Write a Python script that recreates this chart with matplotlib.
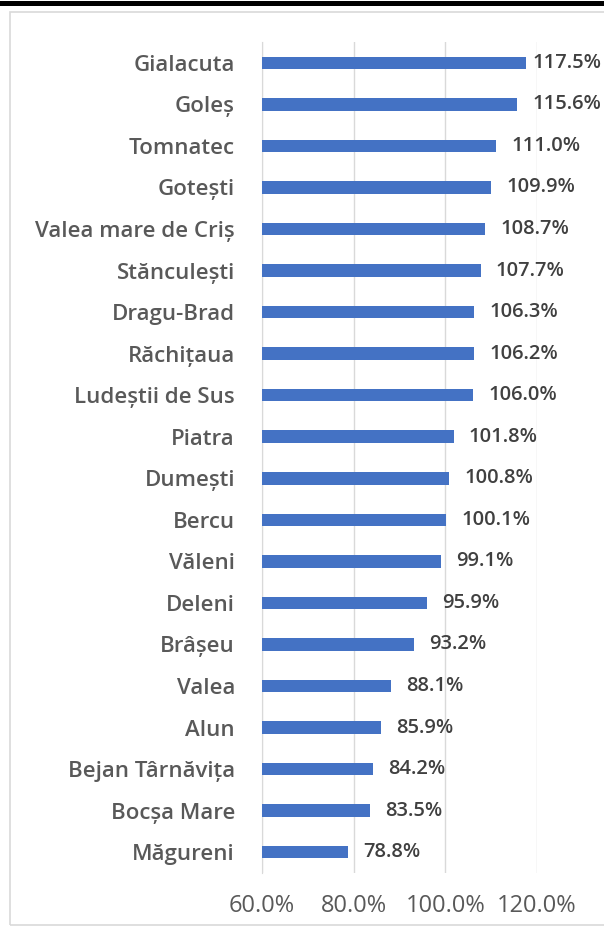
import matplotlib.pyplot as plt
from matplotlib.patches import Rectangle
from matplotlib.lines import Line2D
from matplotlib.ticker import FuncFormatter

# data, top to bottom as in the chart
villages = ['Gialacuta', 'Goleș', 'Tomnatec', 'Gotești', 'Valea mare de Criș',
            'Stănculești', 'Dragu-Brad', 'Răchițaua', 'Ludeștii de Sus', 'Piatra',
            'Dumești', 'Bercu', 'Văleni', 'Deleni', 'Brâșeu', 'Valea', 'Alun',
            'Bejan Târnăvița', 'Bocșa Mare', 'Măgureni']
values = [117.5, 115.6, 111.0, 109.9, 108.7, 107.7, 106.3, 106.2, 106.0, 101.8,
          100.8, 100.1, 99.1, 95.9, 93.2, 88.1, 85.9, 84.2, 83.5, 78.8]
ticks = [60, 80, 100, 120]

plt.rcParams['font.family'] = ['Open Sans', 'DejaVu Sans']

fig = plt.figure(figsize=(6.04, 9.32), dpi=100)

# chart frame and the black rule on top
fig.patches.append(Rectangle((10 / 604, 1 - 925 / 932), 1.0, 913 / 932,
                             transform=fig.transFigure, fill=False,
                             edgecolor='#d9d9d9', linewidth=1.2))
fig.lines.append(Line2D([0, 1], [1 - 2.5 / 932, 1 - 2.5 / 932],
                        transform=fig.transFigure, color='black', linewidth=3.6))

ax = fig.add_axes([262 / 604, 1 - 873 / 932, 275 / 604, 831 / 932])

y = list(range(len(villages)))
ax.barh(y, [v - 60 for v in values], left=60, height=0.3, color='#4472C4', zorder=3)
labels = []
for yi, v in zip(y, values):
    t = ax.annotate(f'{v:.1f}%', (v, yi), xytext=(11, 0), textcoords='offset points',
                    va='center', ha='left', fontsize=14.5, fontweight='semibold',
                    color='#404040', annotation_clip=False)
    labels.append(t)

ax.set_xlim(60, 120)
ax.set_ylim(len(villages) - 0.5, -0.5)
ax.set_xticks(ticks)
ax.xaxis.set_major_formatter(FuncFormatter(lambda v, p: f'{v:.1f}%'))
ax.set_yticks(y)
ax.set_yticklabels(villages, fontsize=16, fontweight='semibold', color='#595959')
ax.tick_params(axis='y', length=0, pad=19.5)
ax.tick_params(axis='x', length=0, pad=15, labelsize=17, labelcolor='#595959')
ax.grid(axis='x', color='#d9d9d9', linewidth=1, zorder=0)
for s in ['top', 'right', 'bottom']:
    ax.spines[s].set_visible(False)
ax.spines['left'].set_color('#d9d9d9')

# keep data labels inside the chart area, like Excel does
fig.canvas.draw()
r = fig.canvas.get_renderer()
for t in labels:
    bb = t.get_window_extent(r)
    if bb.x1 > 601:
        shift = (bb.x1 - 601) * 72 / fig.dpi
        x0, y0 = t.xyann
        t.xyann = (x0 - shift, y0)

plt.savefig('out.png', dpi=100)
